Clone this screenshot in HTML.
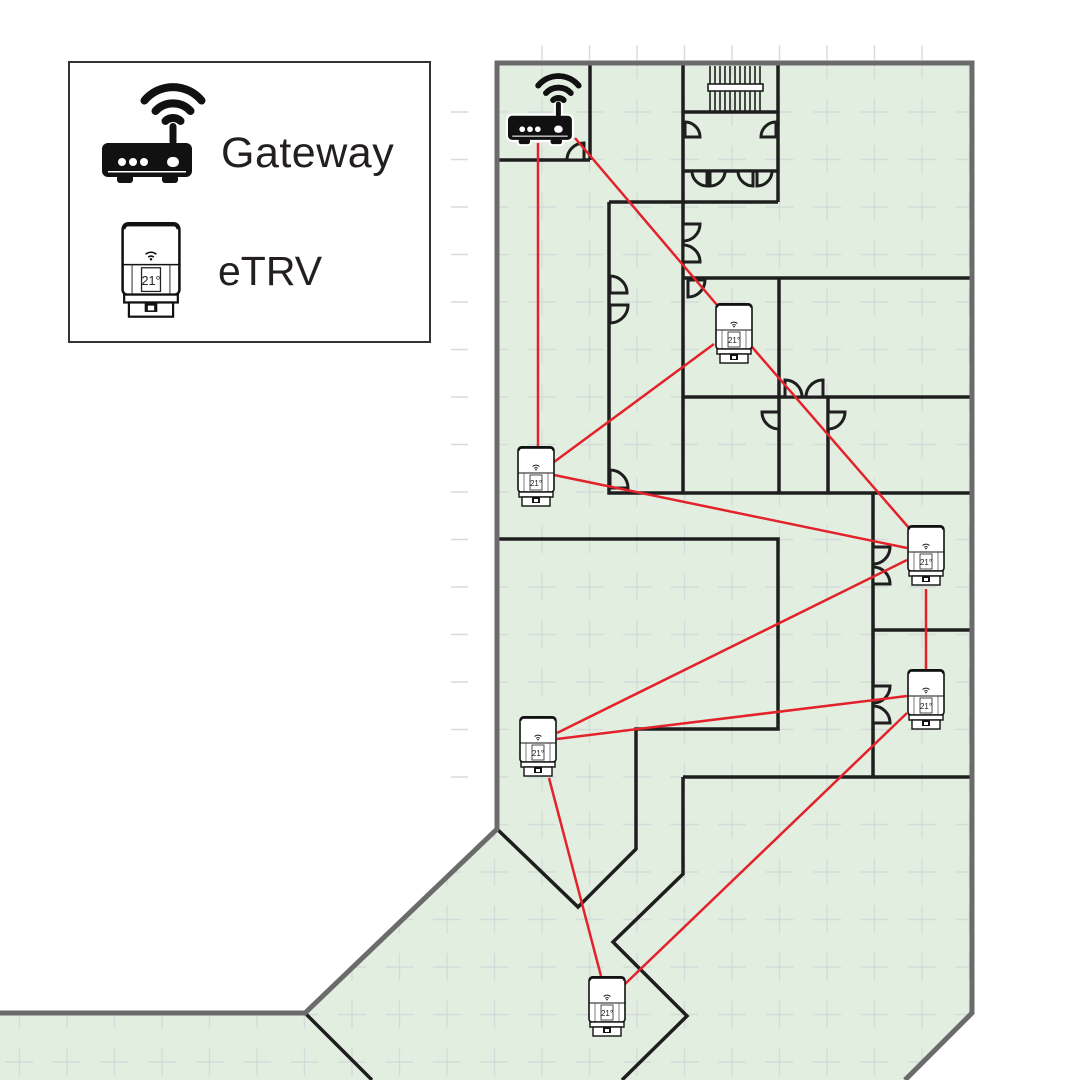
<!DOCTYPE html>
<html><head><meta charset="utf-8"><style>
html,body{margin:0;padding:0;background:#fff;}
svg{display:block;}
</style></head><body>
<svg width="1080" height="1080" viewBox="0 0 1080 1080" xmlns="http://www.w3.org/2000/svg">
<defs>
  <pattern id="grid" patternUnits="userSpaceOnUse" x="43.25" y="-6.75" width="47.5" height="47.5">
    <path d="M9.75,23.75 H37.75 M23.75,9.75 V37.75" stroke="#d3d7da" stroke-width="1.2" fill="none"/>
  </pattern>
  <clipPath id="bld"><polygon points="0,1013 305,1013 497,829 497,63 972,63 972,1013 905,1080 0,1080"/></clipPath>
  <symbol id="trv" viewBox="0 0 38 64">
    <rect x="1" y="2" width="36" height="44" rx="3" fill="#fff" stroke="#111" stroke-width="1.6"/>
    <path d="M1.5,4.5 Q2,1.3 5,1.3 H33 Q36,1.3 36.5,4.5" fill="none" stroke="#111" stroke-width="2.6"/>
    <line x1="1" y1="27" x2="37" y2="27" stroke="#111" stroke-width="1"/>
    <line x1="7" y1="27" x2="7" y2="46" stroke="#444" stroke-width="0.7"/>
    <line x1="31" y1="27" x2="31" y2="46" stroke="#444" stroke-width="0.7"/>
    <rect x="13" y="29" width="12" height="15" fill="#fff" stroke="#222" stroke-width="0.8"/>
    <text x="19" y="40" font-size="8" text-anchor="middle" font-family="Liberation Sans, sans-serif" fill="#222">21°</text>
    <path d="M15.6,20.5 A5,5 0 0 1 22.4,20.5 M17.2,22.3 A2.6,2.6 0 0 1 20.8,22.3" fill="none" stroke="#111" stroke-width="1"/>
    <circle cx="19" cy="23.6" r="0.8" fill="#111"/>
    <rect x="2" y="46" width="34" height="5" fill="#fff" stroke="#111" stroke-width="1.4"/>
    <rect x="5" y="51" width="28" height="9" fill="#fff" stroke="#111" stroke-width="1.4"/>
    <rect x="15" y="51.5" width="8" height="5.5" fill="#111"/>
    <rect x="17" y="53" width="4" height="3" fill="#fff"/>
  </symbol>
  <g id="gw">
    <path d="M42.5,21.5 A37,37 0 0 1 99.5,21.5 M53.5,32 A24,24 0 0 1 88.5,32 M63.5,42 A11,11 0 0 1 78.5,42" fill="none" stroke="#111" stroke-width="8" stroke-linecap="round" transform="translate(0,-1)"/>
    <rect x="67.5" y="43" width="7" height="22" rx="3.5" fill="#111"/>
    <rect x="0" y="63" width="90" height="34" rx="6" fill="#111"/>
    <rect x="6" y="91" width="78" height="1.5" fill="#fff"/>
    <rect x="15" y="95" width="16" height="8" rx="3" fill="#111"/>
    <rect x="60" y="95" width="16" height="8" rx="3" fill="#111"/>
    <circle cx="20" cy="82" r="4" fill="#fff"/>
    <circle cx="31" cy="82" r="4" fill="#fff"/>
    <circle cx="42" cy="82" r="4" fill="#fff"/>
    <rect x="65" y="77" width="12" height="10" rx="5" fill="#fff"/>
  </g>
</defs>

<!-- outside tick marks -->
<g stroke="#d8dadd" stroke-width="1.4">
  <path d="M451,112H468 M451,159.5H468 M451,207H468 M451,254.5H468 M451,302H468 M451,349.5H468 M451,397H468 M451,444.5H468 M451,492H468 M451,539.5H468 M451,587H468 M451,634.5H468 M451,682H468 M451,729.5H468 M451,777H468"/>
  <path d="M542,45V60 M589.5,45V60 M637,45V60 M684.5,45V60 M732,45V60 M779.5,45V60 M827,45V60 M874.5,45V60 M922,45V60"/>
</g>

<!-- building fill -->
<polygon points="0,1013 305,1013 497,829 497,63 972,63 972,1013 905,1080 0,1080" fill="#e2efe0"/>
<rect x="0" y="0" width="1080" height="1080" fill="url(#grid)" clip-path="url(#bld)"/>

<!-- stairs -->
<g stroke="#1e1e1e" stroke-width="1.6">
  <path d="M710,66V111 M715,66V111 M720,66V111 M725,66V111 M730,66V111 M735,66V111 M740,66V111 M745,66V111 M750,66V111 M755,66V111 M760,66V111"/>
</g>
<rect x="708" y="84" width="55" height="7" fill="#fff" stroke="#1e1e1e" stroke-width="1.6"/>

<!-- interior walls -->
<g fill="none" stroke="#1e1e1e" stroke-width="3.5" stroke-linejoin="miter">
  <path d="M590,63V160 M497,160H590"/>
  <path d="M683,63V493 M778,63V202 M683,112H778 M683,171H778 M609,202H778"/>
  <path d="M609,202V493H972"/>
  <path d="M683,278H972 M779,278V493 M683,397H972 M828,397V493"/>
  <path d="M873,493V777 M873,630H972 M683,777H972"/>
  <path d="M683,777V874L613,942L687,1016L622,1080"/>
  <path d="M497,539H778V729H636V849L578,907L497,829"/>
  <path d="M305,1013L372,1080"/>
</g>

<!-- doors -->
<g fill="#e2efe0" stroke="#1e1e1e" stroke-width="3" stroke-linejoin="miter">
  <path d="M584,160 L584,143 A17,17 0 0 0 567,160 Z"/>
  <path d="M685,137 L685,122 A15,15 0 0 1 700,137 Z"/>
  <path d="M776,137 L776,122 A15,15 0 0 0 761,137 Z"/>
  <path d="M707,171 L707,186 A15,15 0 0 1 692,171 Z"/>
  <path d="M710,171 L710,186 A15,15 0 0 0 725,171 Z"/>
  <path d="M753,171 L753,186 A15,15 0 0 1 738,171 Z"/>
  <path d="M757,171 L757,186 A15,15 0 0 0 772,171 Z"/>
  <path d="M683,224 L700,224 A17,17 0 0 1 683,241 Z"/>
  <path d="M683,262 L700,262 A17,17 0 0 0 683,245 Z"/>
  <path d="M610,293 L627,293 A17,17 0 0 0 610,276 Z"/>
  <path d="M610,305 L628,305 A18,18 0 0 1 610,323 Z"/>
  <path d="M610,488 L628,488 A18,18 0 0 0 610,470 Z"/>
  <path d="M688,280 L688,297 A17,17 0 0 0 705,280 Z"/>
  <path d="M785,397 L785,380 A17,17 0 0 1 802,397 Z"/>
  <path d="M823,397 L823,380 A17,17 0 0 0 806,397 Z"/>
  <path d="M779,412 L762,412 A17,17 0 0 0 779,429 Z"/>
  <path d="M828,412 L845,412 A17,17 0 0 1 828,429 Z"/>
  <path d="M873,547 L890,547 A17,17 0 0 1 873,564 Z"/>
  <path d="M873,584 L890,584 A17,17 0 0 0 873,567 Z"/>
  <path d="M873,686 L890,686 A17,17 0 0 1 873,703 Z"/>
  <path d="M873,723 L890,723 A17,17 0 0 0 873,706 Z"/>
</g>

<!-- outer wall -->
<path d="M0,1013 L305,1013 L497,829 L497,63 L972,63 L972,1013 L905,1080" fill="none" stroke="#6b6b6b" stroke-width="5" stroke-linejoin="miter"/>

<!-- red links -->
<g stroke="#e3222b" stroke-width="2.5" fill="none">
  <line x1="538" y1="143" x2="538" y2="447"/>
  <line x1="575" y1="138" x2="717" y2="305"/>
  <line x1="714" y1="344" x2="554" y2="462"/>
  <line x1="752" y1="347" x2="909" y2="528"/>
  <line x1="554" y1="475" x2="907" y2="548"/>
  <line x1="907" y1="560" x2="557" y2="733"/>
  <line x1="926" y1="589" x2="926" y2="669"/>
  <line x1="907" y1="696" x2="557" y2="739"/>
  <line x1="907" y1="713" x2="625" y2="984"/>
  <line x1="549" y1="778" x2="601" y2="976"/>
</g>

<!-- map gateway -->
<g transform="translate(508,71) scale(0.71)">
  <use href="#gw" stroke="#fff" stroke-width="6"/>
  <use href="#gw"/>
</g>

<!-- map eTRVs -->
<use href="#trv" x="715" y="303" width="38" height="64"/>
<use href="#trv" x="517" y="446" width="38" height="64"/>
<use href="#trv" x="907" y="525" width="38" height="64"/>
<use href="#trv" x="907" y="669" width="38" height="64"/>
<use href="#trv" x="519" y="716" width="38" height="64"/>
<use href="#trv" x="588" y="976" width="38" height="64"/>

<!-- legend -->
<rect x="69" y="62" width="361" height="280" fill="#fff" stroke="#333" stroke-width="2"/>
<g transform="translate(102,80)"><use href="#gw"/></g>
<use href="#trv" x="121" y="222" width="60" height="101"/>
<text x="221" y="167" font-family="Liberation Sans, sans-serif" font-size="43" fill="#231f20" letter-spacing="0.5">Gateway</text>
<text x="218" y="285" font-family="Liberation Sans, sans-serif" font-size="41" fill="#231f20">eTRV</text>
</svg>
</body></html>
